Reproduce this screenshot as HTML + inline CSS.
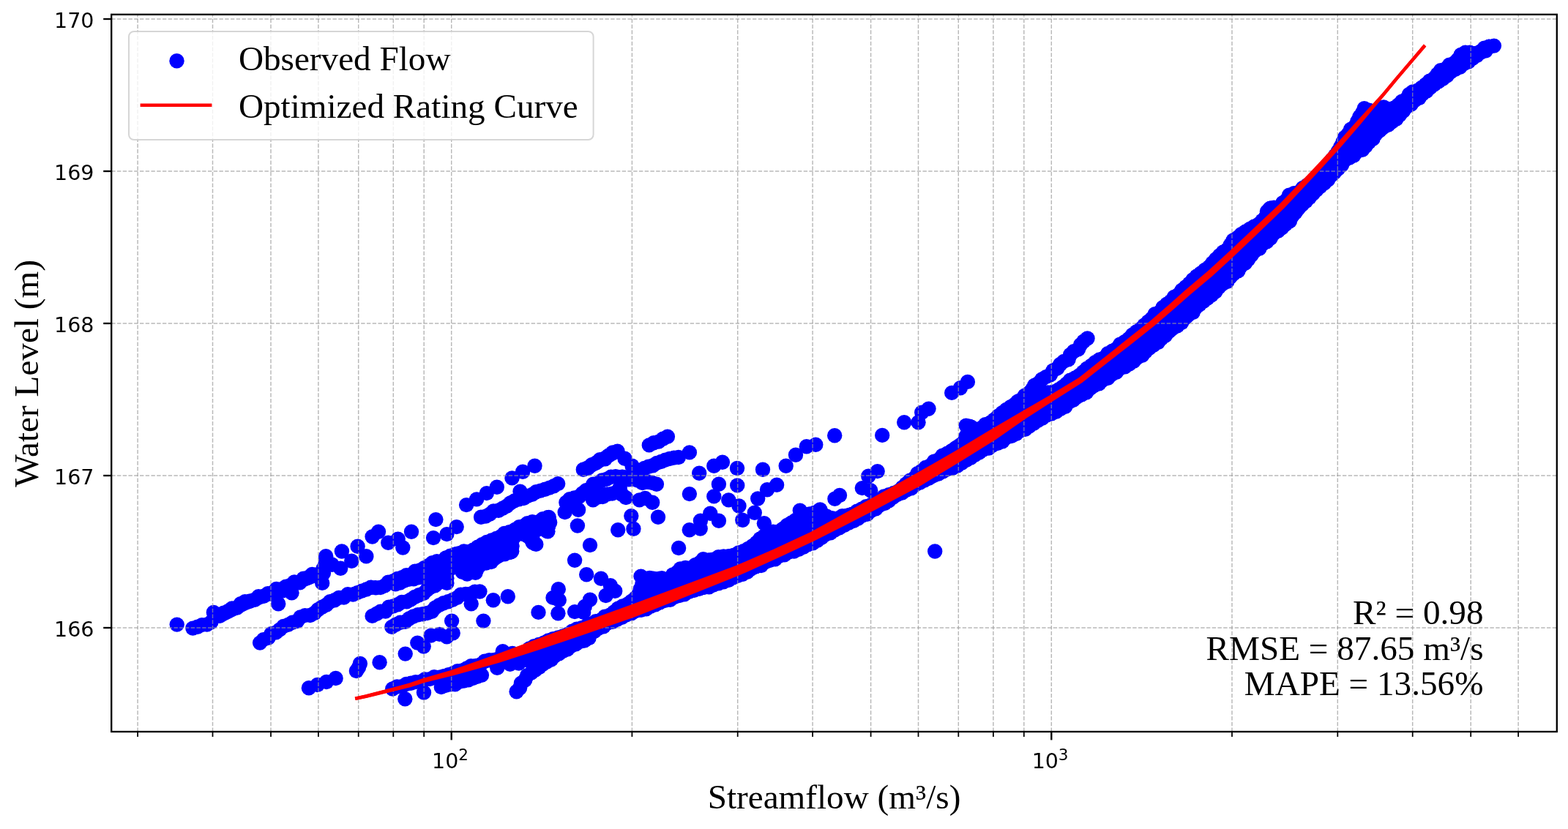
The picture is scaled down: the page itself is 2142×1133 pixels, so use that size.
<!DOCTYPE html>
<html lang="en"><head><meta charset="utf-8"><title>Rating Curve</title>
<style>html,body{margin:0;padding:0;background:#fff}body{width:2142px;height:1133px;overflow:hidden}svg{display:block}text{fill:#000}.s{font-family:"Liberation Serif","Times New Roman",serif;font-size:47.2px}.t{font-family:"DejaVu Sans","Liberation Sans",sans-serif;font-size:28.5px}.u{font-family:"DejaVu Sans","Liberation Sans",sans-serif;font-size:21.5px}</style></head><body>
<svg width="2142" height="1133" viewBox="0 0 2142 1133">
<rect width="2142" height="1133" fill="#fff"/>
<defs><clipPath id="ax"><rect x="152.2" y="19.8" width="1974.6" height="980.2"/></clipPath></defs>
<g clip-path="url(#ax)">
<g fill="#0000ff" stroke="#0000ff" stroke-linejoin="round" stroke-linecap="round">
<polygon stroke-width="5" points="618.2,757 632.3,750 646.3,744.4 660.3,737.4 674.3,730.3 685.6,724.7 695.4,721.9 705.2,716.3 715,710.7 730.5,707.2 747.3,700.2 757.1,706.5 757.1,716.3 754.3,728.9 747.3,731.7 740.3,726.1 734.7,731.7 734.7,744.4 727.7,750 719.3,740.2 710.8,734.5 705.2,740.2 706.6,754.2 701,761.2 688.4,764 674.3,772.4 660.3,776.6 650.5,787.9 636.5,789.3 626.6,785.1 618.2,776.6"/>
<polygon stroke-width="15" points="703.7,894.2 716.7,888.3 754,872.2 771.4,867.1 788.6,858.3 803.7,853.2 834.4,837.9 854.8,824.6 870.6,814.4 879.3,793.3 887.4,787.7 895.9,789.9 913.8,790.2 929,776 943.3,775.4 958.3,764.4 976.6,761.9 1010.3,754.9 1028,744.9 1044.6,729.8 1062.9,724.5 1085.8,709.3 1103,702.5 1118.8,696.9 1137.2,708 1166,699.7 1186,690.6 1204.7,679.3 1230.8,667.4 1259.6,641.1 1285.1,624.4 1315.8,602.3 1324.6,580 1334.5,586.7 1361.2,569.8 1385,550.5 1402.8,541.6 1421.9,538.8 1442.3,532.5 1462.7,518.5 1492.9,497.5 1530.7,469.8 1556.3,449.3 1569.1,436.6 1599.9,409.4 1628.7,381.9 1653.8,360.5 1679.4,334.9 1688.8,323 1702.2,314.2 1723.1,304.3 1731.6,284.9 1735,282.1 1746.7,282.7 1759.6,267.1 1773.5,260.4 1793.7,246.9 1812.4,225.9 1821.5,214.2 1833.7,196.9 1836.5,186.6 1842.4,179.4 1852.7,166.5 1858.7,154.2 1862.9,147.7 1877,151.8 1891.5,145.9 1905.1,147.2 1920.5,132.7 1926.8,125.3 1933.2,125.6 1951.2,112 1964,99.3 1971,93.5 1982.3,87.2 1995,74.5 2001.2,70.1 2016.3,70.8 2029.9,63.6 2039.4,62.3 2041.4,62.3 2021.8,73.9 2004.9,86.4 1984.2,99 1964.9,113.1 1939.6,133.3 1922.9,147.5 1906.9,163.4 1895,173 1881.8,183.6 1870.6,196.3 1859.4,206.6 1840,218.5 1823.1,238.9 1808.1,251.2 1781,279.3 1763.2,301.1 1754.7,309.5 1742,319.6 1729.3,332.4 1716.5,343.7 1703.8,357.7 1676.5,386.3 1667.1,393.3 1641.6,415 1622,435.3 1582.3,468.1 1557.7,487.9 1520.3,512.7 1482.7,537.8 1445.4,562.3 1432.2,568.4 1394,591 1351.7,612.3 1305,638.5 1249.9,664.8 1221,681 1186.1,702.3 1146.2,723.4 1105.9,744.7 1059.1,764.6 1003.9,789.6 970.3,802.7 932.6,812.9 882.2,833 860.3,839.9 837.6,849.6 817.8,860.1 793.1,878.2 777.5,883.4 747.7,891.3 717.9,899.2 698.2,903.2"/>
<polyline fill="none" stroke-width="15.4" points="263.4,858.6 276.7,855.2 288.4,850.2"/>
<polyline fill="none" stroke-width="19" points="300.1,841.9 333.5,825.2 366.8,811.9 400.2,798.5 433.6,785.2"/>
<polyline fill="none" stroke-width="15.4" points="445.2,763.5 441.9,783.5"/>
<polyline fill="none" stroke-width="15.4" points="657.1,706.8 673.8,700.1 690.5,691.8 707.1,683.4 727.2,675.1 743.8,668.4 762.2,661.1"/>
<polyline fill="none" stroke-width="16" points="355.1,878.6 373.5,865.3 393.5,853.6 413.5,843.6 433.6,835.2 450.2,823.6 466.9,816.9 483.6,810.2 503.6,803.5 523.6,801.9 533.6,795.2 550.3,788.5 567,781.8 583.7,773.5 600.4,766.8 617.1,760.2 633.7,753.5"/>
<polyline fill="none" stroke-width="15.4" points="540.3,798.4 564.2,791.4 585.2,787.2 606.3,780.2 620.3,773.9"/>
<polyline fill="none" stroke-width="17" points="508.6,841.9 527,833.6 547,825.2 567,816.9 583.7,806.9 600.4,796.9 610.4,790.2"/>
<polyline fill="none" stroke-width="15.4" points="535.3,856.9 553.7,848.6 570.3,840.2 587,836.9 600.4,826.9 617.1,820.2 630.4,813.5 647.1,810.2 655.4,808.5"/>
<polyline fill="none" stroke-width="15.4" points="486.9,917 491.9,907"/>
<polyline fill="none" stroke-width="19" points="796.8,641.7 813.4,633.4 830.1,623.4 843.5,616.7"/>
<polyline fill="none" stroke-width="17" points="773.4,686.8 786.7,680.1 800.1,670.1 816.8,660.1 833.5,653.4 850.1,650.1 866.8,656.7 883.5,660.1 896.9,661.7"/>
<polyline fill="none" stroke-width="15.4" points="810.1,683.4 826.8,676.7 843.5,673.4 855.1,680.1"/>
<polyline fill="none" stroke-width="15.4" points="880.2,640 896.9,633.4 913.5,628.4 926.9,625"/>
<polyline fill="none" stroke-width="15.4" points="886.8,608.4 900.2,603.3 911.9,596.7"/>
<polyline fill="none" stroke-width="15.4" points="705.6,945.3 713.1,932.8 723.1,921.5 738.2,910.2 755.7,898.9 768,890.1 787.7,880 804.5,872"/>
<polyline fill="none" stroke-width="16" points="1390,549 1398.4,542.5 1415.6,526.5 1436.8,509.5 1455,494 1470,478.5 1485.5,462.5"/>
<polyline fill="none" stroke-width="16" points="536.3,941.5 579,930 617.1,919.5 661.7,905.5 700,893"/>
<polyline fill="none" stroke-width="14" points="602.8,939 630,932 657.9,922.7"/>
</g>
<g fill="#0000ff">
<circle cx="241.7" cy="853.6" r="10.2"/><circle cx="291.8" cy="836.9" r="10.2"/><circle cx="380.2" cy="825.2" r="10.2"/><circle cx="398.5" cy="810.2" r="10.2"/><circle cx="440.2" cy="796.9" r="10.2"/><circle cx="445.2" cy="760.2" r="10.2"/><circle cx="453.6" cy="771.8" r="10.2"/><circle cx="466.9" cy="753.5" r="10.2"/><circle cx="465.2" cy="776.8" r="10.2"/><circle cx="480.3" cy="766.8" r="10.2"/><circle cx="488.6" cy="746.8" r="10.2"/><circle cx="500.3" cy="760.2" r="10.2"/><circle cx="508.6" cy="733.5" r="10.2"/><circle cx="517" cy="726.8" r="10.2"/><circle cx="530.3" cy="741.8" r="10.2"/><circle cx="543.7" cy="736.8" r="10.2"/><circle cx="550.3" cy="748.5" r="10.2"/><circle cx="562" cy="726.8" r="10.2"/><circle cx="592" cy="735.1" r="10.2"/><circle cx="595.4" cy="710.1" r="10.2"/><circle cx="610.4" cy="730.1" r="10.2"/><circle cx="623.7" cy="720.1" r="10.2"/><circle cx="637.1" cy="690.1" r="10.2"/><circle cx="651.1" cy="682.4" r="10.2"/><circle cx="664.8" cy="674.1" r="10.2"/><circle cx="678.8" cy="665.7" r="10.2"/><circle cx="699.5" cy="653.4" r="10.2"/><circle cx="714.1" cy="644.7" r="10.2"/><circle cx="730.5" cy="636.7" r="10.2"/><circle cx="710.5" cy="671.7" r="10.2"/><circle cx="610.4" cy="796.9" r="10.2"/><circle cx="643.7" cy="825.2" r="10.2"/><circle cx="673.8" cy="820.2" r="10.2"/><circle cx="693.8" cy="815.2" r="10.2"/><circle cx="421.9" cy="940.3" r="10.2"/><circle cx="433.6" cy="936" r="10.2"/><circle cx="445.9" cy="932" r="10.2"/><circle cx="458.6" cy="927" r="10.2"/><circle cx="518.6" cy="905.3" r="10.2"/><circle cx="553.7" cy="893.6" r="10.2"/><circle cx="570.3" cy="878.6" r="10.2"/><circle cx="578.7" cy="883.6" r="10.2"/><circle cx="588.7" cy="868.6" r="10.2"/><circle cx="600.4" cy="866.9" r="10.2"/><circle cx="610.4" cy="870.3" r="10.2"/><circle cx="618.7" cy="865.3" r="10.2"/><circle cx="617.1" cy="848.6" r="10.2"/><circle cx="660.4" cy="848.6" r="10.2"/><circle cx="788.9" cy="718.5" r="10.2"/><circle cx="806" cy="745.1" r="10.2"/><circle cx="785.1" cy="765.8" r="10.2"/><circle cx="801.2" cy="785.2" r="10.2"/><circle cx="821" cy="790.8" r="10.2"/><circle cx="833.9" cy="800.2" r="10.2"/><circle cx="844.2" cy="724.2" r="10.2"/><circle cx="862.3" cy="705.1" r="10.2"/><circle cx="865.4" cy="722.8" r="10.2"/><circle cx="899" cy="706.8" r="10.2"/><circle cx="881.2" cy="681" r="10.2"/><circle cx="891.2" cy="686.8" r="10.2"/><circle cx="762.8" cy="805.2" r="10.2"/><circle cx="755.5" cy="816.9" r="10.2"/><circle cx="762.4" cy="838.2" r="10.2"/><circle cx="735.5" cy="836.9" r="10.2"/><circle cx="785.1" cy="836.1" r="10.2"/><circle cx="806" cy="819.6" r="10.2"/><circle cx="797.2" cy="836.9" r="10.2"/><circle cx="875.5" cy="787.6" r="10.2"/><circle cx="885.6" cy="793.5" r="10.2"/><circle cx="904" cy="790.2" r="10.2"/><circle cx="853.5" cy="626.7" r="10.2"/><circle cx="863.5" cy="636.7" r="10.2"/><circle cx="866.8" cy="650.1" r="10.2"/><circle cx="846.8" cy="666.7" r="10.2"/><circle cx="783.4" cy="690.1" r="10.2"/><circle cx="790.1" cy="696.8" r="10.2"/><circle cx="771.7" cy="700.1" r="10.2"/><circle cx="873.5" cy="683.4" r="10.2"/><circle cx="941.9" cy="618.4" r="10.2"/><circle cx="955.2" cy="646.7" r="10.2"/><circle cx="941.9" cy="675.1" r="10.2"/><circle cx="975.3" cy="636.7" r="10.2"/><circle cx="986.9" cy="631.7" r="10.2"/><circle cx="1007" cy="640" r="10.2"/><circle cx="981.9" cy="661.7" r="10.2"/><circle cx="1007.2" cy="663.4" r="10.2"/><circle cx="975.3" cy="678.4" r="10.2"/><circle cx="995.3" cy="683.4" r="10.2"/><circle cx="1009.5" cy="691.5" r="10.2"/><circle cx="1042" cy="641.7" r="10.2"/><circle cx="1048" cy="669.2" r="10.2"/><circle cx="1061.1" cy="662.8" r="10.2"/><circle cx="1035.2" cy="681.5" r="10.2"/><circle cx="1073.7" cy="636.7" r="10.2"/><circle cx="1087" cy="621.7" r="10.2"/><circle cx="1101.8" cy="610.2" r="10.2"/><circle cx="1114.3" cy="607.7" r="10.2"/><circle cx="1140.2" cy="595.2" r="10.2"/><circle cx="1205.2" cy="594.9" r="10.2"/><circle cx="927.1" cy="749" r="10.2"/><circle cx="941.8" cy="724.2" r="10.2"/><circle cx="956.9" cy="711.8" r="10.2"/><circle cx="970.3" cy="701.8" r="10.2"/><circle cx="981.9" cy="711.8" r="10.2"/><circle cx="1014.3" cy="710.8" r="10.2"/><circle cx="1030.8" cy="700.8" r="10.2"/><circle cx="1147" cy="677" r="10.2"/><circle cx="1140.4" cy="681.8" r="10.2"/><circle cx="1177.8" cy="667.1" r="10.2"/><circle cx="1189.2" cy="670.3" r="10.2"/><circle cx="1186.3" cy="650.8" r="10.2"/><circle cx="1198.7" cy="644.1" r="10.2"/><circle cx="1277.2" cy="753.5" r="10.2"/><circle cx="1235.2" cy="577.2" r="10.2"/><circle cx="1254.5" cy="577.2" r="10.2"/><circle cx="1259.2" cy="563.7" r="10.2"/><circle cx="1268.5" cy="558.6" r="10.2"/><circle cx="1300.2" cy="536.9" r="10.2"/><circle cx="1321.9" cy="521.9" r="10.2"/><circle cx="1311.9" cy="530.2" r="10.2"/><circle cx="1319.7" cy="581.6" r="10.2"/><circle cx="553.3" cy="955.3" r="10.2"/><circle cx="579" cy="946.5" r="10.2"/><circle cx="679.2" cy="912.7" r="10.2"/><circle cx="696.8" cy="907.7" r="10.2"/><circle cx="686.8" cy="890.1" r="10.2"/><circle cx="708.7" cy="906.5" r="10.2"/><circle cx="722.2" cy="903" r="10.2"/><circle cx="840.2" cy="807.7" r="10.2"/><circle cx="827.6" cy="814" r="10.2"/><circle cx="798.8" cy="829" r="10.2"/><circle cx="763.8" cy="820.1" r="10.2"/><circle cx="956.7" cy="722.5" r="10.2"/><circle cx="1043.9" cy="715.2" r="10.2"/><circle cx="1092.8" cy="697.6" r="10.2"/><circle cx="1120.3" cy="696.4" r="10.2"/><circle cx="263.4" cy="858.6" r="10.2"/><circle cx="269.8" cy="856.8" r="10.2"/><circle cx="275.9" cy="854.1" r="10.2"/><circle cx="282.7" cy="853.6" r="10.2"/><circle cx="288.4" cy="850.2" r="10.2"/><circle cx="300.1" cy="841.9" r="10.2"/><circle cx="305.4" cy="837.8" r="10.2"/><circle cx="311.5" cy="835.3" r="10.2"/><circle cx="317" cy="831.4" r="10.2"/><circle cx="323.9" cy="830.5" r="10.2"/><circle cx="328.7" cy="825.3" r="10.2"/><circle cx="334.7" cy="822.2" r="10.2"/><circle cx="341.6" cy="821.5" r="10.2"/><circle cx="348" cy="819.8" r="10.2"/><circle cx="353.2" cy="815.2" r="10.2"/><circle cx="360.2" cy="814.9" r="10.2"/><circle cx="365.9" cy="811.3" r="10.2"/><circle cx="373.4" cy="812.3" r="10.2"/><circle cx="377.5" cy="804.9" r="10.2"/><circle cx="385.7" cy="807.5" r="10.2"/><circle cx="390.5" cy="801.8" r="10.2"/><circle cx="396.8" cy="799.9" r="10.2"/><circle cx="402.1" cy="795.4" r="10.2"/><circle cx="409.6" cy="796.2" r="10.2"/><circle cx="414.5" cy="790.7" r="10.2"/><circle cx="421" cy="789.2" r="10.2"/><circle cx="426.4" cy="784.9" r="10.2"/><circle cx="433.6" cy="785.2" r="10.2"/><circle cx="445.2" cy="763.5" r="10.2"/><circle cx="444.5" cy="770.2" r="10.2"/><circle cx="441.8" cy="776.6" r="10.2"/><circle cx="441.9" cy="783.5" r="10.2"/><circle cx="657.1" cy="706.8" r="10.2"/><circle cx="663.5" cy="705.6" r="10.2"/><circle cx="669.2" cy="702.6" r="10.2"/><circle cx="674.2" cy="698.4" r="10.2"/><circle cx="681" cy="697.8" r="10.2"/><circle cx="686.6" cy="694.8" r="10.2"/><circle cx="692.2" cy="691.7" r="10.2"/><circle cx="697.2" cy="687.5" r="10.2"/><circle cx="702.8" cy="684.4" r="10.2"/><circle cx="709" cy="682.4" r="10.2"/><circle cx="715.3" cy="681.1" r="10.2"/><circle cx="720.9" cy="677.9" r="10.2"/><circle cx="726.9" cy="675.9" r="10.2"/><circle cx="732.4" cy="672.3" r="10.2"/><circle cx="738.5" cy="670.6" r="10.2"/><circle cx="744.6" cy="668.7" r="10.2"/><circle cx="750.7" cy="666.6" r="10.2"/><circle cx="756.6" cy="664.2" r="10.2"/><circle cx="762.2" cy="661.1" r="10.2"/><circle cx="355.1" cy="878.6" r="10.2"/><circle cx="359.9" cy="874.1" r="10.2"/><circle cx="366.4" cy="871.9" r="10.2"/><circle cx="370.5" cy="866.3" r="10.2"/><circle cx="377" cy="864.4" r="10.2"/><circle cx="382.3" cy="860.4" r="10.2"/><circle cx="387.3" cy="856" r="10.2"/><circle cx="393.6" cy="853.9" r="10.2"/><circle cx="399.4" cy="850.7" r="10.2"/><circle cx="405.9" cy="849.1" r="10.2"/><circle cx="410.4" cy="843.5" r="10.2"/><circle cx="416.6" cy="841.1" r="10.2"/><circle cx="423.7" cy="841" r="10.2"/><circle cx="429.5" cy="838" r="10.2"/><circle cx="434.4" cy="833.3" r="10.2"/><circle cx="439.9" cy="829.8" r="10.2"/><circle cx="445.8" cy="826.8" r="10.2"/><circle cx="450.8" cy="822.2" r="10.2"/><circle cx="457.1" cy="820.2" r="10.2"/><circle cx="462.9" cy="817" r="10.2"/><circle cx="469.7" cy="816.5" r="10.2"/><circle cx="475.1" cy="812.2" r="10.2"/><circle cx="482.2" cy="812.5" r="10.2"/><circle cx="488.2" cy="810.1" r="10.2"/><circle cx="494.3" cy="807.6" r="10.2"/><circle cx="500.5" cy="805.5" r="10.2"/><circle cx="506.6" cy="802.8" r="10.2"/><circle cx="513.2" cy="803.3" r="10.2"/><circle cx="519.7" cy="803" r="10.2"/><circle cx="525.7" cy="800.4" r="10.2"/><circle cx="530.4" cy="795.6" r="10.2"/><circle cx="537.1" cy="794.2" r="10.2"/><circle cx="542.9" cy="790.9" r="10.2"/><circle cx="549.3" cy="789.3" r="10.2"/><circle cx="555.1" cy="786.3" r="10.2"/><circle cx="561.9" cy="785.4" r="10.2"/><circle cx="567" cy="780.8" r="10.2"/><circle cx="573.6" cy="779.5" r="10.2"/><circle cx="579.4" cy="776.3" r="10.2"/><circle cx="585.1" cy="773.1" r="10.2"/><circle cx="590.6" cy="769.3" r="10.2"/><circle cx="596.8" cy="767.1" r="10.2"/><circle cx="603.8" cy="767.1" r="10.2"/><circle cx="609.1" cy="762.5" r="10.2"/><circle cx="615.1" cy="759.8" r="10.2"/><circle cx="621.3" cy="757.8" r="10.2"/><circle cx="627.7" cy="756.1" r="10.2"/><circle cx="633.7" cy="753.5" r="10.2"/><circle cx="540.3" cy="798.4" r="10.2"/><circle cx="546.5" cy="796.6" r="10.2"/><circle cx="552.3" cy="793.5" r="10.2"/><circle cx="558.5" cy="791.7" r="10.2"/><circle cx="565.1" cy="791.2" r="10.2"/><circle cx="571.3" cy="789.2" r="10.2"/><circle cx="577.8" cy="789" r="10.2"/><circle cx="584.2" cy="788.2" r="10.2"/><circle cx="589.9" cy="784.5" r="10.2"/><circle cx="596.4" cy="783.5" r="10.2"/><circle cx="602.4" cy="781.2" r="10.2"/><circle cx="608.8" cy="779.9" r="10.2"/><circle cx="614.9" cy="777.6" r="10.2"/><circle cx="620.3" cy="773.9" r="10.2"/><circle cx="508.6" cy="841.9" r="10.2"/><circle cx="514.3" cy="839" r="10.2"/><circle cx="519.8" cy="835.7" r="10.2"/><circle cx="526.6" cy="835.5" r="10.2"/><circle cx="531.1" cy="829.7" r="10.2"/><circle cx="537.4" cy="828.4" r="10.2"/><circle cx="543.4" cy="826.2" r="10.2"/><circle cx="548.9" cy="822.9" r="10.2"/><circle cx="555.6" cy="822.4" r="10.2"/><circle cx="561.2" cy="819.4" r="10.2"/><circle cx="566.5" cy="816" r="10.2"/><circle cx="572.3" cy="813.3" r="10.2"/><circle cx="578.4" cy="811" r="10.2"/><circle cx="583.1" cy="806.4" r="10.2"/><circle cx="588" cy="802.2" r="10.2"/><circle cx="594.3" cy="800.4" r="10.2"/><circle cx="599.2" cy="796.2" r="10.2"/><circle cx="605.4" cy="794.2" r="10.2"/><circle cx="610.4" cy="790.2" r="10.2"/><circle cx="535.3" cy="856.9" r="10.2"/><circle cx="540.9" cy="853.5" r="10.2"/><circle cx="546.8" cy="850.7" r="10.2"/><circle cx="553.6" cy="849.8" r="10.2"/><circle cx="558.9" cy="845.5" r="10.2"/><circle cx="564.6" cy="842.5" r="10.2"/><circle cx="570.8" cy="840.2" r="10.2"/><circle cx="577.3" cy="839.3" r="10.2"/><circle cx="583.7" cy="838" r="10.2"/><circle cx="589.9" cy="835.7" r="10.2"/><circle cx="594.4" cy="830.6" r="10.2"/><circle cx="599.9" cy="827.1" r="10.2"/><circle cx="605.9" cy="824.3" r="10.2"/><circle cx="612.1" cy="822.3" r="10.2"/><circle cx="618.2" cy="819.9" r="10.2"/><circle cx="624.1" cy="817.1" r="10.2"/><circle cx="629.3" cy="812.8" r="10.2"/><circle cx="636.1" cy="812" r="10.2"/><circle cx="642.7" cy="811.6" r="10.2"/><circle cx="648.7" cy="808.6" r="10.2"/><circle cx="655.4" cy="808.5" r="10.2"/><circle cx="486.9" cy="917" r="10.2"/><circle cx="490" cy="912.3" r="10.2"/><circle cx="491.9" cy="907" r="10.2"/><circle cx="796.8" cy="641.7" r="10.2"/><circle cx="803.2" cy="639.8" r="10.2"/><circle cx="808.4" cy="635.2" r="10.2"/><circle cx="814.4" cy="632.5" r="10.2"/><circle cx="819.5" cy="628.1" r="10.2"/><circle cx="826.7" cy="627.2" r="10.2"/><circle cx="831.6" cy="622.5" r="10.2"/><circle cx="836.9" cy="618.4" r="10.2"/><circle cx="843.5" cy="616.7" r="10.2"/><circle cx="773.4" cy="686.8" r="10.2"/><circle cx="778.2" cy="682.2" r="10.2"/><circle cx="784.5" cy="680.5" r="10.2"/><circle cx="791.2" cy="678.9" r="10.2"/><circle cx="795.7" cy="674.3" r="10.2"/><circle cx="800.7" cy="670.3" r="10.2"/><circle cx="806.9" cy="668.2" r="10.2"/><circle cx="810.4" cy="661.6" r="10.2"/><circle cx="817.1" cy="660.4" r="10.2"/><circle cx="822.4" cy="656.4" r="10.2"/><circle cx="828.7" cy="654.9" r="10.2"/><circle cx="834.6" cy="651.8" r="10.2"/><circle cx="841" cy="651.3" r="10.2"/><circle cx="847.7" cy="652.3" r="10.2"/><circle cx="853.2" cy="652.3" r="10.2"/><circle cx="858.9" cy="655.2" r="10.2"/><circle cx="866.1" cy="654.5" r="10.2"/><circle cx="871.8" cy="656.9" r="10.2"/><circle cx="877.7" cy="660.1" r="10.2"/><circle cx="884.4" cy="658.3" r="10.2"/><circle cx="890.7" cy="659.6" r="10.2"/><circle cx="896.9" cy="661.7" r="10.2"/><circle cx="810.1" cy="683.4" r="10.2"/><circle cx="816.1" cy="679.8" r="10.2"/><circle cx="823.2" cy="679" r="10.2"/><circle cx="829.4" cy="675.5" r="10.2"/><circle cx="836.2" cy="674.6" r="10.2"/><circle cx="842.8" cy="672.2" r="10.2"/><circle cx="849.6" cy="675.8" r="10.2"/><circle cx="855.1" cy="680.1" r="10.2"/><circle cx="880.2" cy="640" r="10.2"/><circle cx="885.9" cy="637.8" r="10.2"/><circle cx="891.9" cy="636.2" r="10.2"/><circle cx="897.2" cy="632.9" r="10.2"/><circle cx="903.1" cy="631" r="10.2"/><circle cx="908.8" cy="628.6" r="10.2"/><circle cx="914.7" cy="627" r="10.2"/><circle cx="920.7" cy="625.6" r="10.2"/><circle cx="926.9" cy="625" r="10.2"/><circle cx="886.8" cy="608.4" r="10.2"/><circle cx="893" cy="605.2" r="10.2"/><circle cx="899.8" cy="603.6" r="10.2"/><circle cx="905.7" cy="599.8" r="10.2"/><circle cx="911.9" cy="596.7" r="10.2"/><circle cx="705.6" cy="945.3" r="10.2"/><circle cx="710.1" cy="940.3" r="10.2"/><circle cx="711.9" cy="933.7" r="10.2"/><circle cx="717.2" cy="929.5" r="10.2"/><circle cx="720.1" cy="923.3" r="10.2"/><circle cx="725.8" cy="919.6" r="10.2"/><circle cx="731.1" cy="915.7" r="10.2"/><circle cx="736.5" cy="912" r="10.2"/><circle cx="741.6" cy="907.7" r="10.2"/><circle cx="747.3" cy="904.4" r="10.2"/><circle cx="753.2" cy="901.4" r="10.2"/><circle cx="757.7" cy="896.3" r="10.2"/><circle cx="763.7" cy="893.3" r="10.2"/><circle cx="769.2" cy="889.8" r="10.2"/><circle cx="775.3" cy="887.2" r="10.2"/><circle cx="780.4" cy="882.8" r="10.2"/><circle cx="786.6" cy="880.3" r="10.2"/><circle cx="792.1" cy="876.6" r="10.2"/><circle cx="798.7" cy="875.2" r="10.2"/><circle cx="804.5" cy="872" r="10.2"/><circle cx="1390" cy="549" r="10.2"/><circle cx="1395.8" cy="546" r="10.2"/><circle cx="1399.8" cy="540.6" r="10.2"/><circle cx="1405.5" cy="537.3" r="10.2"/><circle cx="1409.9" cy="532.5" r="10.2"/><circle cx="1413.2" cy="526.6" r="10.2"/><circle cx="1419.1" cy="523.5" r="10.2"/><circle cx="1423.3" cy="518.5" r="10.2"/><circle cx="1428.9" cy="515.1" r="10.2"/><circle cx="1434.9" cy="512.3" r="10.2"/><circle cx="1438.5" cy="506.5" r="10.2"/><circle cx="1444.3" cy="503.4" r="10.2"/><circle cx="1448.2" cy="498" r="10.2"/><circle cx="1453.2" cy="493.9" r="10.2"/><circle cx="1459.6" cy="491.3" r="10.2"/><circle cx="1462.1" cy="484.8" r="10.2"/><circle cx="1466.8" cy="480.3" r="10.2"/><circle cx="1473" cy="477.4" r="10.2"/><circle cx="1476.1" cy="471.3" r="10.2"/><circle cx="1480.4" cy="466.5" r="10.2"/><circle cx="1485.5" cy="462.5" r="10.2"/><circle cx="536.3" cy="941.5" r="10.2"/><circle cx="542.3" cy="938.5" r="10.2"/><circle cx="549" cy="938.1" r="10.2"/><circle cx="555" cy="935" r="10.2"/><circle cx="561.4" cy="933.8" r="10.2"/><circle cx="567.8" cy="932.1" r="10.2"/><circle cx="574.6" cy="932" r="10.2"/><circle cx="580.4" cy="928.5" r="10.2"/><circle cx="587.1" cy="928.1" r="10.2"/><circle cx="593.1" cy="925.2" r="10.2"/><circle cx="600.1" cy="925.8" r="10.2"/><circle cx="606.4" cy="924.1" r="10.2"/><circle cx="612.7" cy="922.1" r="10.2"/><circle cx="619.1" cy="920.2" r="10.2"/><circle cx="625" cy="917.2" r="10.2"/><circle cx="631.6" cy="916.4" r="10.2"/><circle cx="637.6" cy="913.5" r="10.2"/><circle cx="643.4" cy="910.1" r="10.2"/><circle cx="650.2" cy="909.9" r="10.2"/><circle cx="656.6" cy="908.3" r="10.2"/><circle cx="662.1" cy="903.8" r="10.2"/><circle cx="668.5" cy="902.3" r="10.2"/><circle cx="675.3" cy="902" r="10.2"/><circle cx="681.5" cy="899.9" r="10.2"/><circle cx="687.6" cy="897.3" r="10.2"/><circle cx="693.4" cy="893.9" r="10.2"/><circle cx="700" cy="893" r="10.2"/><circle cx="602.8" cy="939" r="10.2"/><circle cx="608.8" cy="936.8" r="10.2"/><circle cx="615" cy="935.2" r="10.2"/><circle cx="621.7" cy="935.4" r="10.2"/><circle cx="627.4" cy="931.9" r="10.2"/><circle cx="633.6" cy="930.5" r="10.2"/><circle cx="639.9" cy="929.2" r="10.2"/><circle cx="645.9" cy="927.1" r="10.2"/><circle cx="651.9" cy="924.9" r="10.2"/><circle cx="657.9" cy="922.7" r="10.2"/><circle cx="621.3" cy="763.3" r="10.2"/><circle cx="627.4" cy="759.7" r="10.2"/><circle cx="633.7" cy="756.8" r="10.2"/><circle cx="639.7" cy="754.5" r="10.2"/><circle cx="646.2" cy="751.8" r="10.2"/><circle cx="652.5" cy="747.6" r="10.2"/><circle cx="658.6" cy="744.1" r="10.2"/><circle cx="664.9" cy="741" r="10.2"/><circle cx="671.5" cy="738.5" r="10.2"/><circle cx="677.9" cy="735.9" r="10.2"/><circle cx="684.3" cy="733.1" r="10.2"/><circle cx="689" cy="728.9" r="10.2"/><circle cx="695.8" cy="727.2" r="10.2"/><circle cx="703.4" cy="724" r="10.2"/><circle cx="709.2" cy="720.1" r="10.2"/><circle cx="716.4" cy="718.5" r="10.2"/><circle cx="720.5" cy="715.3" r="10.2"/><circle cx="727.2" cy="713.3" r="10.2"/><circle cx="735.7" cy="713.4" r="10.2"/><circle cx="741.5" cy="709.1" r="10.2"/><circle cx="748.2" cy="707.2" r="10.2"/><circle cx="748.3" cy="708.2" r="10.2"/><circle cx="749.7" cy="707" r="10.2"/><circle cx="751.2" cy="714" r="10.2"/><circle cx="749.1" cy="719.3" r="10.2"/><circle cx="748.4" cy="726.3" r="10.2"/><circle cx="746.9" cy="725.9" r="10.2"/><circle cx="746.6" cy="724.2" r="10.2"/><circle cx="733.7" cy="724.1" r="10.2"/><circle cx="727.1" cy="734" r="10.2"/><circle cx="728.6" cy="741" r="10.2"/><circle cx="728" cy="741.9" r="10.2"/><circle cx="732.3" cy="743.9" r="10.2"/><circle cx="726.8" cy="739.4" r="10.2"/><circle cx="720.9" cy="732.9" r="10.2"/><circle cx="714.4" cy="730.1" r="10.2"/><circle cx="701.7" cy="734.7" r="10.2"/><circle cx="699.6" cy="746.3" r="10.2"/><circle cx="699.2" cy="753.3" r="10.2"/><circle cx="698.2" cy="754.3" r="10.2"/><circle cx="696.1" cy="755" r="10.2"/><circle cx="689.5" cy="757.4" r="10.2"/><circle cx="680.7" cy="759.9" r="10.2"/><circle cx="674.8" cy="763.7" r="10.2"/><circle cx="670.9" cy="768.1" r="10.2"/><circle cx="664" cy="769.6" r="10.2"/><circle cx="654.6" cy="773.6" r="10.2"/><circle cx="650.8" cy="779.5" r="10.2"/><circle cx="649.5" cy="782.8" r="10.2"/><circle cx="642.4" cy="781.8" r="10.2"/><circle cx="638.1" cy="784.5" r="10.2"/><circle cx="631.7" cy="781.8" r="10.2"/><circle cx="629.3" cy="777.4" r="10.2"/><circle cx="623" cy="773.7" r="10.2"/><circle cx="625.8" cy="771" r="10.2"/><circle cx="623.3" cy="764" r="10.2"/><circle cx="624.3" cy="757" r="10.2"/><circle cx="704.5" cy="896" r="10.2"/><circle cx="710.9" cy="893.1" r="10.2"/><circle cx="717.6" cy="890.8" r="10.2"/><circle cx="723.2" cy="886.4" r="10.2"/><circle cx="729.5" cy="883.3" r="10.2"/><circle cx="736.1" cy="881" r="10.2"/><circle cx="742.8" cy="878.8" r="10.2"/><circle cx="749" cy="875.4" r="10.2"/><circle cx="755.5" cy="873.2" r="10.2"/><circle cx="762.3" cy="871.4" r="10.2"/><circle cx="769" cy="869.5" r="10.2"/><circle cx="775.8" cy="866.8" r="10.2"/><circle cx="781.6" cy="862.8" r="10.2"/><circle cx="787.9" cy="859.8" r="10.2"/><circle cx="794.6" cy="858.1" r="10.2"/><circle cx="801.1" cy="855.4" r="10.2"/><circle cx="807.7" cy="852.7" r="10.2"/><circle cx="813.8" cy="849.3" r="10.2"/><circle cx="820.8" cy="847.5" r="10.2"/><circle cx="826.1" cy="842.6" r="10.2"/><circle cx="833" cy="840.7" r="10.2"/><circle cx="838.8" cy="836.4" r="10.2"/><circle cx="844.2" cy="831.8" r="10.2"/><circle cx="850.4" cy="828.5" r="10.2"/><circle cx="857" cy="825.9" r="10.2"/><circle cx="862.7" cy="821.8" r="10.2"/><circle cx="868.1" cy="817.1" r="10.2"/><circle cx="872.7" cy="811.6" r="10.2"/><circle cx="874.8" cy="804.9" r="10.2"/><circle cx="877.4" cy="798.4" r="10.2"/><circle cx="882.1" cy="794.6" r="10.2"/><circle cx="887.5" cy="790" r="10.2"/><circle cx="892.5" cy="790.8" r="10.2"/><circle cx="899.9" cy="790.9" r="10.2"/><circle cx="906.8" cy="792.4" r="10.2"/><circle cx="915.1" cy="791.5" r="10.2"/><circle cx="919.1" cy="785.5" r="10.2"/><circle cx="925.5" cy="782" r="10.2"/><circle cx="929.4" cy="777.5" r="10.2"/><circle cx="936.3" cy="776" r="10.2"/><circle cx="943.3" cy="776.5" r="10.2"/><circle cx="949.6" cy="772.2" r="10.2"/><circle cx="956.1" cy="769.1" r="10.2"/><circle cx="960.7" cy="764.1" r="10.2"/><circle cx="968" cy="765.6" r="10.2"/><circle cx="974.9" cy="764.6" r="10.2"/><circle cx="981.5" cy="761.1" r="10.2"/><circle cx="988.5" cy="760.5" r="10.2"/><circle cx="995.6" cy="760.2" r="10.2"/><circle cx="1002.5" cy="758.9" r="10.2"/><circle cx="1009" cy="755.5" r="10.2"/><circle cx="1015.7" cy="753.1" r="10.2"/><circle cx="1022" cy="750" r="10.2"/><circle cx="1027.9" cy="746.3" r="10.2"/><circle cx="1033.5" cy="741.6" r="10.2"/><circle cx="1038.3" cy="736.5" r="10.2"/><circle cx="1044.1" cy="732.5" r="10.2"/><circle cx="1050" cy="731" r="10.2"/><circle cx="1056" cy="726.7" r="10.2"/><circle cx="1063.3" cy="726.8" r="10.2"/><circle cx="1069.8" cy="722.6" r="10.2"/><circle cx="1075.2" cy="718" r="10.2"/><circle cx="1081.2" cy="714.4" r="10.2"/><circle cx="1086.8" cy="711" r="10.2"/><circle cx="1092.8" cy="707.1" r="10.2"/><circle cx="1099.3" cy="704.5" r="10.2"/><circle cx="1106" cy="702.4" r="10.2"/><circle cx="1112.8" cy="700.6" r="10.2"/><circle cx="1117.6" cy="699.1" r="10.2"/><circle cx="1123.6" cy="702.7" r="10.2"/><circle cx="1129.9" cy="705.9" r="10.2"/><circle cx="1136.7" cy="708.1" r="10.2"/><circle cx="1144.3" cy="708.7" r="10.2"/><circle cx="1150.6" cy="705.2" r="10.2"/><circle cx="1157.7" cy="704.7" r="10.2"/><circle cx="1164.4" cy="702.7" r="10.2"/><circle cx="1170.7" cy="698.8" r="10.2"/><circle cx="1177" cy="695.7" r="10.2"/><circle cx="1183.1" cy="692.2" r="10.2"/><circle cx="1189.9" cy="689.9" r="10.2"/><circle cx="1196.3" cy="686.9" r="10.2"/><circle cx="1201.9" cy="682.6" r="10.2"/><circle cx="1207.5" cy="678.4" r="10.2"/><circle cx="1214.2" cy="676.3" r="10.2"/><circle cx="1220.8" cy="673.9" r="10.2"/><circle cx="1227.3" cy="671.3" r="10.2"/><circle cx="1232.7" cy="666.2" r="10.2"/><circle cx="1237.8" cy="661.4" r="10.2"/><circle cx="1243" cy="656.7" r="10.2"/><circle cx="1249.3" cy="653.2" r="10.2"/><circle cx="1253.3" cy="647.2" r="10.2"/><circle cx="1259.4" cy="643.5" r="10.2"/><circle cx="1264.5" cy="639" r="10.2"/><circle cx="1271" cy="636.2" r="10.2"/><circle cx="1275.9" cy="630.8" r="10.2"/><circle cx="1282.5" cy="628.1" r="10.2"/><circle cx="1287.4" cy="622.8" r="10.2"/><circle cx="1293.9" cy="619.8" r="10.2"/><circle cx="1299.9" cy="616.1" r="10.2"/><circle cx="1305.7" cy="612.2" r="10.2"/><circle cx="1311.7" cy="608.5" r="10.2"/><circle cx="1317" cy="604" r="10.2"/><circle cx="1319.5" cy="596.2" r="10.2"/><circle cx="1323" cy="590.1" r="10.2"/><circle cx="1325" cy="583.3" r="10.2"/><circle cx="1327" cy="583.6" r="10.2"/><circle cx="1332.9" cy="587.4" r="10.2"/><circle cx="1340.6" cy="584.9" r="10.2"/><circle cx="1345.9" cy="580.3" r="10.2"/><circle cx="1352.7" cy="577.8" r="10.2"/><circle cx="1358.3" cy="573.5" r="10.2"/><circle cx="1363.4" cy="568.6" r="10.2"/><circle cx="1369" cy="564.3" r="10.2"/><circle cx="1374.6" cy="560" r="10.2"/><circle cx="1380.4" cy="556.1" r="10.2"/><circle cx="1386.6" cy="552.6" r="10.2"/><circle cx="1391.6" cy="548.3" r="10.2"/><circle cx="1397.9" cy="545.1" r="10.2"/><circle cx="1404.1" cy="543.4" r="10.2"/><circle cx="1410.8" cy="541.1" r="10.2"/><circle cx="1417.7" cy="539.6" r="10.2"/><circle cx="1425" cy="539.7" r="10.2"/><circle cx="1431.4" cy="536.5" r="10.2"/><circle cx="1438.4" cy="535.6" r="10.2"/><circle cx="1445.5" cy="533" r="10.2"/><circle cx="1451.5" cy="529.3" r="10.2"/><circle cx="1456.9" cy="524.7" r="10.2"/><circle cx="1461.8" cy="519.6" r="10.2"/><circle cx="1468.3" cy="516.6" r="10.2"/><circle cx="1474.4" cy="513.1" r="10.2"/><circle cx="1479.7" cy="508.5" r="10.2"/><circle cx="1484.8" cy="503.6" r="10.2"/><circle cx="1490.7" cy="499.8" r="10.2"/><circle cx="1496.1" cy="495.2" r="10.2"/><circle cx="1502" cy="491.4" r="10.2"/><circle cx="1508.8" cy="488.8" r="10.2"/><circle cx="1513.3" cy="483.2" r="10.2"/><circle cx="1519.5" cy="479.7" r="10.2"/><circle cx="1525.8" cy="476.5" r="10.2"/><circle cx="1530.1" cy="470.6" r="10.2"/><circle cx="1536.3" cy="467.1" r="10.2"/><circle cx="1542.1" cy="463" r="10.2"/><circle cx="1546.9" cy="457.8" r="10.2"/><circle cx="1552.4" cy="453.5" r="10.2"/><circle cx="1558.3" cy="449.4" r="10.2"/><circle cx="1563.2" cy="444.4" r="10.2"/><circle cx="1568.4" cy="439.7" r="10.2"/><circle cx="1573.7" cy="435.3" r="10.2"/><circle cx="1577.7" cy="429.3" r="10.2"/><circle cx="1584.6" cy="426.5" r="10.2"/><circle cx="1588.5" cy="420.3" r="10.2"/><circle cx="1593.9" cy="415.8" r="10.2"/><circle cx="1599.5" cy="411.6" r="10.2"/><circle cx="1603.9" cy="406" r="10.2"/><circle cx="1610.2" cy="402.4" r="10.2"/><circle cx="1614.4" cy="396.6" r="10.2"/><circle cx="1619.7" cy="392.1" r="10.2"/><circle cx="1624.9" cy="387.4" r="10.2"/><circle cx="1629.6" cy="382.3" r="10.2"/><circle cx="1634.8" cy="377.5" r="10.2"/><circle cx="1640.4" cy="373.4" r="10.2"/><circle cx="1645.9" cy="369" r="10.2"/><circle cx="1651.6" cy="364.9" r="10.2"/><circle cx="1656.3" cy="359.4" r="10.2"/><circle cx="1661" cy="354.3" r="10.2"/><circle cx="1666" cy="349.3" r="10.2"/><circle cx="1671" cy="344.5" r="10.2"/><circle cx="1677.1" cy="340.7" r="10.2"/><circle cx="1680.9" cy="334.4" r="10.2"/><circle cx="1684.6" cy="328.4" r="10.2"/><circle cx="1690.4" cy="325.1" r="10.2"/><circle cx="1695.6" cy="320.3" r="10.2"/><circle cx="1701.5" cy="316.5" r="10.2"/><circle cx="1707.3" cy="312.9" r="10.2"/><circle cx="1713.4" cy="309.4" r="10.2"/><circle cx="1719.7" cy="306.3" r="10.2"/><circle cx="1724.4" cy="301.5" r="10.2"/><circle cx="1729.3" cy="296.1" r="10.2"/><circle cx="1730.9" cy="289.1" r="10.2"/><circle cx="1735.2" cy="284.8" r="10.2"/><circle cx="1740.4" cy="283.8" r="10.2"/><circle cx="1748.9" cy="283.5" r="10.2"/><circle cx="1752.3" cy="277.3" r="10.2"/><circle cx="1758.1" cy="273" r="10.2"/><circle cx="1761.1" cy="266.7" r="10.2"/><circle cx="1767.7" cy="264.2" r="10.2"/><circle cx="1774.9" cy="262.3" r="10.2"/><circle cx="1779.7" cy="256.9" r="10.2"/><circle cx="1785.6" cy="253.1" r="10.2"/><circle cx="1792.4" cy="250.6" r="10.2"/><circle cx="1798" cy="245.5" r="10.2"/><circle cx="1801.8" cy="239.6" r="10.2"/><circle cx="1806.7" cy="234.6" r="10.2"/><circle cx="1811.3" cy="229.2" r="10.2"/><circle cx="1815.7" cy="223.7" r="10.2"/><circle cx="1819.7" cy="217.9" r="10.2"/><circle cx="1824.1" cy="212.4" r="10.2"/><circle cx="1828" cy="206.6" r="10.2"/><circle cx="1831.5" cy="200.5" r="10.2"/><circle cx="1834.4" cy="194.2" r="10.2"/><circle cx="1837.2" cy="187.7" r="10.2"/><circle cx="1841.8" cy="183" r="10.2"/><circle cx="1845.2" cy="176.8" r="10.2"/><circle cx="1851.2" cy="172.6" r="10.2"/><circle cx="1854.4" cy="165.8" r="10.2"/><circle cx="1857.5" cy="159.5" r="10.2"/><circle cx="1861.3" cy="153.9" r="10.2"/><circle cx="1863.7" cy="148.2" r="10.2"/><circle cx="1870.2" cy="150.8" r="10.2"/><circle cx="1877.7" cy="152.9" r="10.2"/><circle cx="1884.6" cy="151.1" r="10.2"/><circle cx="1890.2" cy="146.5" r="10.2"/><circle cx="1896.9" cy="148.9" r="10.2"/><circle cx="1904" cy="147.6" r="10.2"/><circle cx="1909.9" cy="143.6" r="10.2"/><circle cx="1915" cy="138.8" r="10.2"/><circle cx="1921.3" cy="135.3" r="10.2"/><circle cx="1925" cy="128.9" r="10.2"/><circle cx="1929.9" cy="125.5" r="10.2"/><circle cx="1936.5" cy="123.8" r="10.2"/><circle cx="1942.2" cy="119.8" r="10.2"/><circle cx="1947.7" cy="115.4" r="10.2"/><circle cx="1952.8" cy="110.6" r="10.2"/><circle cx="1959.2" cy="107" r="10.2"/><circle cx="1963.6" cy="101.5" r="10.2"/><circle cx="1968" cy="96.1" r="10.2"/><circle cx="1974.9" cy="94.1" r="10.2"/><circle cx="1979.9" cy="88.8" r="10.2"/><circle cx="1987" cy="86.1" r="10.2"/><circle cx="1992" cy="81.1" r="10.2"/><circle cx="1995.6" cy="75" r="10.2"/><circle cx="2001.8" cy="71.7" r="10.2"/><circle cx="2007.7" cy="71.7" r="10.2"/><circle cx="2014.7" cy="73.1" r="10.2"/><circle cx="2022.4" cy="70.6" r="10.2"/><circle cx="2027.7" cy="65.7" r="10.2"/><circle cx="2034.1" cy="63.6" r="10.2"/><circle cx="2040.9" cy="62.6" r="10.2"/><circle cx="2034.8" cy="63.9" r="10.2"/><circle cx="2029.7" cy="69.2" r="10.2"/><circle cx="2023.1" cy="71.6" r="10.2"/><circle cx="2017.4" cy="76" r="10.2"/><circle cx="2011.6" cy="79.9" r="10.2"/><circle cx="2006.2" cy="84.4" r="10.2"/><circle cx="1999.8" cy="87.1" r="10.2"/><circle cx="1994.4" cy="91.8" r="10.2"/><circle cx="1987.9" cy="94.7" r="10.2"/><circle cx="1981.7" cy="98.2" r="10.2"/><circle cx="1976.8" cy="103.4" r="10.2"/><circle cx="1971.1" cy="107.5" r="10.2"/><circle cx="1965.3" cy="111.4" r="10.2"/><circle cx="1959.4" cy="115.3" r="10.2"/><circle cx="1953.9" cy="119.6" r="10.2"/><circle cx="1948.9" cy="124.6" r="10.2"/><circle cx="1943.1" cy="128.6" r="10.2"/><circle cx="1938.5" cy="134" r="10.2"/><circle cx="1932.2" cy="137.5" r="10.2"/><circle cx="1927.5" cy="142.8" r="10.2"/><circle cx="1921.2" cy="146.4" r="10.2"/><circle cx="1916.9" cy="151.9" r="10.2"/><circle cx="1912.1" cy="157.1" r="10.2"/><circle cx="1907.6" cy="162.5" r="10.2"/><circle cx="1901.7" cy="166.3" r="10.2"/><circle cx="1896.3" cy="170.8" r="10.2"/><circle cx="1889.7" cy="173.8" r="10.2"/><circle cx="1884.5" cy="178.5" r="10.2"/><circle cx="1879.2" cy="183.5" r="10.2"/><circle cx="1875.5" cy="189.7" r="10.2"/><circle cx="1870.1" cy="194.2" r="10.2"/><circle cx="1865.8" cy="199.6" r="10.2"/><circle cx="1861" cy="204.7" r="10.2"/><circle cx="1854.1" cy="206.7" r="10.2"/><circle cx="1849.4" cy="212.5" r="10.2"/><circle cx="1843.2" cy="215.7" r="10.2"/><circle cx="1836.5" cy="219.3" r="10.2"/><circle cx="1833" cy="225.5" r="10.2"/><circle cx="1828.1" cy="230.5" r="10.2"/><circle cx="1823.1" cy="235.5" r="10.2"/><circle cx="1818.3" cy="239.9" r="10.2"/><circle cx="1814" cy="245.7" r="10.2"/><circle cx="1808.8" cy="250.5" r="10.2"/><circle cx="1803.4" cy="255" r="10.2"/><circle cx="1798.3" cy="259.8" r="10.2"/><circle cx="1793.5" cy="264.9" r="10.2"/><circle cx="1788.7" cy="270" r="10.2"/><circle cx="1783.9" cy="275.1" r="10.2"/><circle cx="1778.6" cy="279.9" r="10.2"/><circle cx="1773.7" cy="284.9" r="10.2"/><circle cx="1769.5" cy="290.5" r="10.2"/><circle cx="1764.8" cy="295.7" r="10.2"/><circle cx="1761.9" cy="302.4" r="10.2"/><circle cx="1756.2" cy="306.6" r="10.2"/><circle cx="1751.2" cy="311.4" r="10.2"/><circle cx="1745.8" cy="315.8" r="10.2"/><circle cx="1739.6" cy="319.6" r="10.2"/><circle cx="1735.7" cy="325.5" r="10.2"/><circle cx="1730.6" cy="330.4" r="10.2"/><circle cx="1724.3" cy="333.8" r="10.2"/><circle cx="1720.3" cy="339.8" r="10.2"/><circle cx="1713.6" cy="343.2" r="10.2"/><circle cx="1709.4" cy="348.9" r="10.2"/><circle cx="1705.2" cy="354.5" r="10.2"/><circle cx="1700.8" cy="359.9" r="10.2"/><circle cx="1694.9" cy="364" r="10.2"/><circle cx="1691.4" cy="370.4" r="10.2"/><circle cx="1685.1" cy="374.1" r="10.2"/><circle cx="1680.2" cy="379.1" r="10.2"/><circle cx="1676.3" cy="385" r="10.2"/><circle cx="1669.9" cy="387.9" r="10.2"/><circle cx="1664.8" cy="392.9" r="10.2"/><circle cx="1660.5" cy="398.6" r="10.2"/><circle cx="1655.1" cy="403.2" r="10.2"/><circle cx="1649.6" cy="407.5" r="10.2"/><circle cx="1644.1" cy="411.8" r="10.2"/><circle cx="1638.6" cy="416.3" r="10.2"/><circle cx="1633.1" cy="420.8" r="10.2"/><circle cx="1629.6" cy="427.1" r="10.2"/><circle cx="1623" cy="430.5" r="10.2"/><circle cx="1618.1" cy="435.1" r="10.2"/><circle cx="1614" cy="441.1" r="10.2"/><circle cx="1608.4" cy="445.3" r="10.2"/><circle cx="1601.9" cy="448.5" r="10.2"/><circle cx="1596.5" cy="453" r="10.2"/><circle cx="1592.1" cy="458.6" r="10.2"/><circle cx="1586.4" cy="462.7" r="10.2"/><circle cx="1581.8" cy="468.1" r="10.2"/><circle cx="1575.7" cy="471.7" r="10.2"/><circle cx="1570" cy="475.8" r="10.2"/><circle cx="1564.9" cy="480.6" r="10.2"/><circle cx="1560.2" cy="485.9" r="10.2"/><circle cx="1553.6" cy="488.7" r="10.2"/><circle cx="1548.6" cy="493.8" r="10.2"/><circle cx="1542.7" cy="497.6" r="10.2"/><circle cx="1536.8" cy="501.3" r="10.2"/><circle cx="1529.8" cy="503.4" r="10.2"/><circle cx="1524.9" cy="508.8" r="10.2"/><circle cx="1518.6" cy="511.9" r="10.2"/><circle cx="1513.4" cy="516.7" r="10.2"/><circle cx="1506.7" cy="519.3" r="10.2"/><circle cx="1501.5" cy="524.2" r="10.2"/><circle cx="1494.8" cy="526.8" r="10.2"/><circle cx="1489.1" cy="530.8" r="10.2"/><circle cx="1484.2" cy="536.2" r="10.2"/><circle cx="1477.8" cy="539.2" r="10.2"/><circle cx="1471.5" cy="542.2" r="10.2"/><circle cx="1466.1" cy="546.8" r="10.2"/><circle cx="1459.7" cy="549.8" r="10.2"/><circle cx="1455.2" cy="555.7" r="10.2"/><circle cx="1448.8" cy="558.8" r="10.2"/><circle cx="1443" cy="562.5" r="10.2"/><circle cx="1436.6" cy="565.2" r="10.2"/><circle cx="1429.7" cy="567.5" r="10.2"/><circle cx="1423.9" cy="571.5" r="10.2"/><circle cx="1417.8" cy="574.9" r="10.2"/><circle cx="1412" cy="578.8" r="10.2"/><circle cx="1406.1" cy="582.6" r="10.2"/><circle cx="1400.4" cy="586.8" r="10.2"/><circle cx="1393.5" cy="588.9" r="10.2"/><circle cx="1388" cy="593.1" r="10.2"/><circle cx="1381.6" cy="596" r="10.2"/><circle cx="1374.7" cy="597.9" r="10.2"/><circle cx="1369.5" cy="603.2" r="10.2"/><circle cx="1363" cy="605.9" r="10.2"/><circle cx="1356.4" cy="608.4" r="10.2"/><circle cx="1350.7" cy="612.6" r="10.2"/><circle cx="1343.6" cy="614.4" r="10.2"/><circle cx="1337.9" cy="618.4" r="10.2"/><circle cx="1331.8" cy="621.8" r="10.2"/><circle cx="1325.9" cy="625.7" r="10.2"/><circle cx="1319.7" cy="629" r="10.2"/><circle cx="1313.8" cy="632.7" r="10.2"/><circle cx="1307.9" cy="636.5" r="10.2"/><circle cx="1301.6" cy="639.6" r="10.2"/><circle cx="1294.6" cy="641.1" r="10.2"/><circle cx="1288.3" cy="644.2" r="10.2"/><circle cx="1282.1" cy="647.5" r="10.2"/><circle cx="1275.5" cy="649.9" r="10.2"/><circle cx="1269.3" cy="653.3" r="10.2"/><circle cx="1263.1" cy="656.4" r="10.2"/><circle cx="1256.8" cy="659.6" r="10.2"/><circle cx="1250.4" cy="662.5" r="10.2"/><circle cx="1244.9" cy="667.2" r="10.2"/><circle cx="1238.3" cy="669.7" r="10.2"/><circle cx="1232.4" cy="673.5" r="10.2"/><circle cx="1225.7" cy="676" r="10.2"/><circle cx="1219.8" cy="679.9" r="10.2"/><circle cx="1214.3" cy="684.3" r="10.2"/><circle cx="1208.4" cy="688.1" r="10.2"/><circle cx="1201.7" cy="690.6" r="10.2"/><circle cx="1196.5" cy="695.4" r="10.2"/><circle cx="1189.9" cy="698.1" r="10.2"/><circle cx="1184.6" cy="702.9" r="10.2"/><circle cx="1177.7" cy="704.7" r="10.2"/><circle cx="1171.9" cy="708.8" r="10.2"/><circle cx="1165.8" cy="712.1" r="10.2"/><circle cx="1159.2" cy="714.7" r="10.2"/><circle cx="1153" cy="718" r="10.2"/><circle cx="1146.8" cy="721.2" r="10.2"/><circle cx="1140.5" cy="724.3" r="10.2"/><circle cx="1134.6" cy="728.2" r="10.2"/><circle cx="1127.9" cy="730.4" r="10.2"/><circle cx="1122.3" cy="734.8" r="10.2"/><circle cx="1116.5" cy="738.8" r="10.2"/><circle cx="1110.4" cy="742.3" r="10.2"/><circle cx="1103.6" cy="744.2" r="10.2"/><circle cx="1097.5" cy="747.7" r="10.2"/><circle cx="1091.2" cy="750.8" r="10.2"/><circle cx="1084.7" cy="753.5" r="10.2"/><circle cx="1077.5" cy="754.4" r="10.2"/><circle cx="1071.6" cy="758.4" r="10.2"/><circle cx="1064.5" cy="759.7" r="10.2"/><circle cx="1058.9" cy="764.4" r="10.2"/><circle cx="1051.8" cy="765.7" r="10.2"/><circle cx="1045.2" cy="768.1" r="10.2"/><circle cx="1039.7" cy="773" r="10.2"/><circle cx="1032.7" cy="774.4" r="10.2"/><circle cx="1026.3" cy="777.2" r="10.2"/><circle cx="1020.7" cy="781.9" r="10.2"/><circle cx="1014.2" cy="784.7" r="10.2"/><circle cx="1007.6" cy="787.1" r="10.2"/><circle cx="1001.2" cy="789.6" r="10.2"/><circle cx="995" cy="793" r="10.2"/><circle cx="988.4" cy="795.3" r="10.2"/><circle cx="981.6" cy="797.4" r="10.2"/><circle cx="974.8" cy="799.2" r="10.2"/><circle cx="968.6" cy="802.2" r="10.2"/><circle cx="961.5" cy="802.8" r="10.2"/><circle cx="954.8" cy="804.7" r="10.2"/><circle cx="948.1" cy="806.8" r="10.2"/><circle cx="941.3" cy="808.7" r="10.2"/><circle cx="935" cy="812.2" r="10.2"/><circle cx="928.2" cy="814" r="10.2"/><circle cx="921.5" cy="816" r="10.2"/><circle cx="915.4" cy="819.8" r="10.2"/><circle cx="908.3" cy="820.7" r="10.2"/><circle cx="901.7" cy="823.3" r="10.2"/><circle cx="895.5" cy="826.4" r="10.2"/><circle cx="888.8" cy="828.8" r="10.2"/><circle cx="882.7" cy="832.2" r="10.2"/><circle cx="875.8" cy="833.7" r="10.2"/><circle cx="868.9" cy="834.8" r="10.2"/><circle cx="862.6" cy="838.4" r="10.2"/><circle cx="855.7" cy="840.2" r="10.2"/><circle cx="849.6" cy="843.7" r="10.2"/><circle cx="843.2" cy="846.5" r="10.2"/><circle cx="836.9" cy="849.8" r="10.2"/><circle cx="829.9" cy="851.5" r="10.2"/><circle cx="824.5" cy="856.2" r="10.2"/><circle cx="817.8" cy="858.6" r="10.2"/><circle cx="812.1" cy="862.9" r="10.2"/><circle cx="806.3" cy="866.9" r="10.2"/><circle cx="800.8" cy="871.3" r="10.2"/><circle cx="795.7" cy="876.1" r="10.2"/><circle cx="789.2" cy="878.1" r="10.2"/><circle cx="782.3" cy="879.7" r="10.2"/><circle cx="775.9" cy="882.4" r="10.2"/><circle cx="769.4" cy="885" r="10.2"/><circle cx="762.1" cy="884.9" r="10.2"/><circle cx="755.5" cy="887.1" r="10.2"/><circle cx="749.1" cy="890.5" r="10.2"/><circle cx="742" cy="891.1" r="10.2"/><circle cx="735.1" cy="892.3" r="10.2"/><circle cx="728.6" cy="895.2" r="10.2"/><circle cx="721.6" cy="896.1" r="10.2"/><circle cx="715.1" cy="898.5" r="10.2"/><circle cx="708.2" cy="899.9" r="10.2"/><circle cx="701.3" cy="901" r="10.2"/><circle cx="700.8" cy="900.6" r="10.2"/><circle cx="704.4" cy="894.6" r="10.2"/>
</g>
<g stroke="#9a9a9a" stroke-opacity="0.7" stroke-width="1.46" stroke-dasharray="5.41 2.34" fill="none">
<line x1="188.1" y1="1000" x2="188.1" y2="19.8"/><line x1="290.5" y1="1000" x2="290.5" y2="19.8"/><line x1="370" y1="1000" x2="370" y2="19.8"/><line x1="434.9" y1="1000" x2="434.9" y2="19.8"/><line x1="489.7" y1="1000" x2="489.7" y2="19.8"/><line x1="537.3" y1="1000" x2="537.3" y2="19.8"/><line x1="579.2" y1="1000" x2="579.2" y2="19.8"/><line x1="616.7" y1="1000" x2="616.7" y2="19.8"/><line x1="863.4" y1="1000" x2="863.4" y2="19.8"/><line x1="1007.7" y1="1000" x2="1007.7" y2="19.8"/><line x1="1110.1" y1="1000" x2="1110.1" y2="19.8"/><line x1="1189.6" y1="1000" x2="1189.6" y2="19.8"/><line x1="1254.5" y1="1000" x2="1254.5" y2="19.8"/><line x1="1309.3" y1="1000" x2="1309.3" y2="19.8"/><line x1="1356.9" y1="1000" x2="1356.9" y2="19.8"/><line x1="1398.8" y1="1000" x2="1398.8" y2="19.8"/><line x1="1436.3" y1="1000" x2="1436.3" y2="19.8"/><line x1="1683" y1="1000" x2="1683" y2="19.8"/><line x1="1827.3" y1="1000" x2="1827.3" y2="19.8"/><line x1="1929.7" y1="1000" x2="1929.7" y2="19.8"/><line x1="2009.2" y1="1000" x2="2009.2" y2="19.8"/><line x1="2074.1" y1="1000" x2="2074.1" y2="19.8"/><line x1="152.2" y1="858" x2="2126.8" y2="858"/><line x1="152.2" y1="650" x2="2126.8" y2="650"/><line x1="152.2" y1="442" x2="2126.8" y2="442"/><line x1="152.2" y1="234" x2="2126.8" y2="234"/><line x1="152.2" y1="26" x2="2126.8" y2="26"/>
</g>
<polygon fill="#ff0000" points="484.7,952.5 499.4,949.2 535.6,939.9 559.2,933.4 578,927.1 616,916 643.6,906.6 678.1,894.3 734,873.2 790.2,852.4 860.6,827 932.6,800.3 1005.3,773.1 1057.2,750.4 1107.1,727.3 1146.6,705.6 1186.6,683.2 1249.7,648 1305.1,616.3 1351.9,588.1 1395.5,562.6 1434.4,540 1473.7,516.3 1503.5,492.6 1537.3,465.6 1571.4,438.4 1597.1,416.3 1619.2,396.6 1650.5,370.1 1679.9,343 1710.9,313.7 1748.8,278 1793.6,231.2 1824.6,197.9 1852,167.3 1868,149.8 1887.2,128.8 1906,106.3 1927.3,81.2 1944.9,60.5 1948.3,63.5 1930.7,84 1909.4,109.1 1890.6,131.8 1872.2,153.4 1857,171.7 1830,202.9 1799.4,236.6 1754.8,284 1717.1,320.3 1686.1,349.8 1656.5,376.9 1625,403.4 1602.9,422.9 1577,445.2 1542.7,472.4 1508.7,499 1478.3,522.9 1439.2,547.8 1401.5,572 1359.9,601.1 1313.3,629.9 1258.3,663.4 1194.3,697.4 1153.4,718.4 1112.9,738.9 1062.8,762.6 1010.7,786.1 938.4,815.1 866.6,843.4 795.8,868 739,887.2 681.9,905.7 646.4,915.8 618.2,923.4 579.8,933.1 560.8,939.2 537,945.1 500.6,954 485.7,957.1"/>
<polyline fill="none" stroke="#ff0000" stroke-width="4.4" stroke-linejoin="round" stroke-linecap="butt" points="485.2,954.8 500,951.6 536.3,942.5 560,936.3 578.9,930.1 617.1,919.7 645,911.2 680,900 736.5,880.2 793,860.2 863.6,835.2 935.5,807.7 1008,779.6 1060,756.5 1110,733.1 1150,712 1190.5,690.3 1254,655.7 1309.2,623.1 1355.9,594.6 1398.5,567.3 1436.8,543.9 1476,519.6 1506.1,495.8 1540,469 1574.2,441.8 1600,419.6 1622.1,400 1653.5,373.5 1683,346.4 1714,317 1751.8,281 1796.5,233.9 1827.3,200.4 1854.5,169.5 1870.1,151.6 1888.9,130.3 1907.7,107.7 1929,82.6 1946.6,62"/>
</g>
<g stroke="#000" stroke-width="2.34" fill="none">
<line x1="188.1" y1="1000" x2="188.1" y2="1007" stroke-width="1.76"/><line x1="290.5" y1="1000" x2="290.5" y2="1007" stroke-width="1.76"/><line x1="370" y1="1000" x2="370" y2="1007" stroke-width="1.76"/><line x1="434.9" y1="1000" x2="434.9" y2="1007" stroke-width="1.76"/><line x1="489.7" y1="1000" x2="489.7" y2="1007" stroke-width="1.76"/><line x1="537.3" y1="1000" x2="537.3" y2="1007" stroke-width="1.76"/><line x1="579.2" y1="1000" x2="579.2" y2="1007" stroke-width="1.76"/><line x1="616.7" y1="1000" x2="616.7" y2="1011.4"/><line x1="863.4" y1="1000" x2="863.4" y2="1007" stroke-width="1.76"/><line x1="1007.7" y1="1000" x2="1007.7" y2="1007" stroke-width="1.76"/><line x1="1110.1" y1="1000" x2="1110.1" y2="1007" stroke-width="1.76"/><line x1="1189.6" y1="1000" x2="1189.6" y2="1007" stroke-width="1.76"/><line x1="1254.5" y1="1000" x2="1254.5" y2="1007" stroke-width="1.76"/><line x1="1309.3" y1="1000" x2="1309.3" y2="1007" stroke-width="1.76"/><line x1="1356.9" y1="1000" x2="1356.9" y2="1007" stroke-width="1.76"/><line x1="1398.8" y1="1000" x2="1398.8" y2="1007" stroke-width="1.76"/><line x1="1436.3" y1="1000" x2="1436.3" y2="1011.4"/><line x1="1683" y1="1000" x2="1683" y2="1007" stroke-width="1.76"/><line x1="1827.3" y1="1000" x2="1827.3" y2="1007" stroke-width="1.76"/><line x1="1929.7" y1="1000" x2="1929.7" y2="1007" stroke-width="1.76"/><line x1="2009.2" y1="1000" x2="2009.2" y2="1007" stroke-width="1.76"/><line x1="2074.1" y1="1000" x2="2074.1" y2="1007" stroke-width="1.76"/><line x1="141.2" y1="858" x2="152.2" y2="858"/><line x1="141.2" y1="650" x2="152.2" y2="650"/><line x1="141.2" y1="442" x2="152.2" y2="442"/><line x1="141.2" y1="234" x2="152.2" y2="234"/><line x1="141.2" y1="26" x2="152.2" y2="26"/>
</g>
<rect x="152.2" y="19.8" width="1974.6" height="980.2" fill="none" stroke="#000" stroke-width="2.34"/>
<text class="t" x="128.5" y="869.7" text-anchor="end">166</text><text class="t" x="128.5" y="661.7" text-anchor="end">167</text><text class="t" x="128.5" y="453.7" text-anchor="end">168</text><text class="t" x="128.5" y="245.7" text-anchor="end">169</text><text class="t" x="128.5" y="37.7" text-anchor="end">170</text><text class="t" x="590.1" y="1049.8">10<tspan class="u" dy="-10.5" dx="-0.2">2</tspan></text><text class="t" x="1409.7" y="1049.8">10<tspan class="u" dy="-10.5" dx="-0.2">3</tspan></text>
<text class="s" x="1139.5" y="1104.6" text-anchor="middle">Streamflow (m³/s)</text>
<text class="s" transform="translate(51.5 510.4) rotate(-90)" text-anchor="middle">Water Level (m)</text>
<text class="s" x="2026.5" y="852.9" text-anchor="end">R² = 0.98</text>
<text class="s" x="2026.5" y="901.6" text-anchor="end">RMSE = 87.65 m³/s</text>
<text class="s" x="2026.5" y="950.4" text-anchor="end">MAPE = 13.56%</text>
<rect x="176" y="43" width="634.6" height="148" rx="7" ry="7" fill="#fff" fill-opacity="0.8" stroke="#cccccc" stroke-opacity="0.8" stroke-width="2"/>
<circle cx="241.5" cy="83.3" r="10.2" fill="#0000ff"/>
<line x1="193.8" y1="143.7" x2="287.2" y2="143.7" stroke="#ff0000" stroke-width="4.4" stroke-linecap="square"/>
<text class="s" x="325.9" y="96.0">Observed Flow</text>
<text class="s" x="325.9" y="161.0">Optimized Rating Curve</text>
</svg>
</body></html>
